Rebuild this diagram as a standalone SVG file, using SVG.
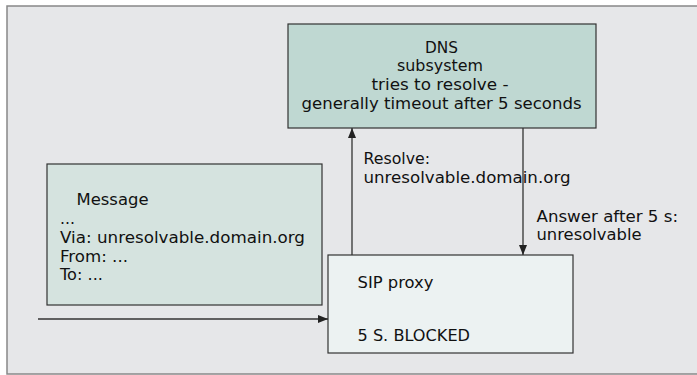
<svg xmlns="http://www.w3.org/2000/svg" width="697" height="375" viewBox="0 0 697 375">
<style>
text{font-family:"DejaVu Sans","Liberation Sans",sans-serif;font-size:15.5px;fill:#111}
.box{stroke:#333;stroke-width:1.2}
.conn{stroke:#333;stroke-width:1.3;fill:none}
</style>
<defs>
<marker id="ah" markerWidth="10" markerHeight="8" refX="10" refY="4" orient="auto" markerUnits="userSpaceOnUse">
<path d="M0,0 L10,4 L0,8 Z" fill="#222"/>
</marker>
</defs>
<rect x="0" y="0" width="697" height="375" fill="#fff"/>
<rect x="7" y="6" width="700" height="368" fill="#e6e7e9" stroke="#888" stroke-width="1.5"/>
<g id="dns">
<rect class="box" x="288" y="24" width="308" height="104" fill="#bfd8d2"/>
<text x="441.5" y="52.5" text-anchor="middle" textLength="33" lengthAdjust="spacingAndGlyphs">DNS</text>
<text x="440" y="71" text-anchor="middle" textLength="86" lengthAdjust="spacingAndGlyphs">subsystem</text>
<text x="440" y="90" text-anchor="middle" textLength="137" lengthAdjust="spacingAndGlyphs">tries to resolve -</text>
<text x="441.5" y="109" text-anchor="middle" textLength="280" lengthAdjust="spacingAndGlyphs">generally timeout after 5 seconds</text>
</g>
<g id="message">
<rect class="box" x="47" y="164" width="275" height="141" fill="#d5e3df"/>
<text x="76.5" y="205" textLength="72" lengthAdjust="spacingAndGlyphs">Message</text>
<text x="60" y="223.5" textLength="15" lengthAdjust="spacingAndGlyphs">...</text>
<text x="60" y="242.5" textLength="245" lengthAdjust="spacingAndGlyphs">Via: unresolvable.domain.org</text>
<text x="60" y="261.5" textLength="68" lengthAdjust="spacingAndGlyphs">From: ...</text>
<text x="60" y="280" textLength="43" lengthAdjust="spacingAndGlyphs">To: ...</text>
</g>
<g id="sip">
<rect class="box" x="328" y="255" width="245" height="98" fill="#ecf2f2"/>
<text x="357.5" y="287.5" textLength="76" lengthAdjust="spacingAndGlyphs">SIP proxy</text>
<text x="357.5" y="341" textLength="112.5" lengthAdjust="spacingAndGlyphs">5 S. BLOCKED</text>
</g>
<g id="connectors">
<line class="conn" x1="38" y1="319" x2="328" y2="319" marker-end="url(#ah)"/>
<line class="conn" x1="352" y1="255" x2="352" y2="128" marker-end="url(#ah)"/>
<line class="conn" x1="523" y1="128" x2="523" y2="255" marker-end="url(#ah)"/>
<text x="363.5" y="164" textLength="66.5" lengthAdjust="spacingAndGlyphs">Resolve:</text>
<text x="363.5" y="182.5" textLength="207" lengthAdjust="spacingAndGlyphs">unresolvable.domain.org</text>
<text x="536.5" y="221.5" textLength="141.5" lengthAdjust="spacingAndGlyphs">Answer after 5 s:</text>
<text x="536.5" y="240" textLength="105" lengthAdjust="spacingAndGlyphs">unresolvable</text>
</g>
</svg>
